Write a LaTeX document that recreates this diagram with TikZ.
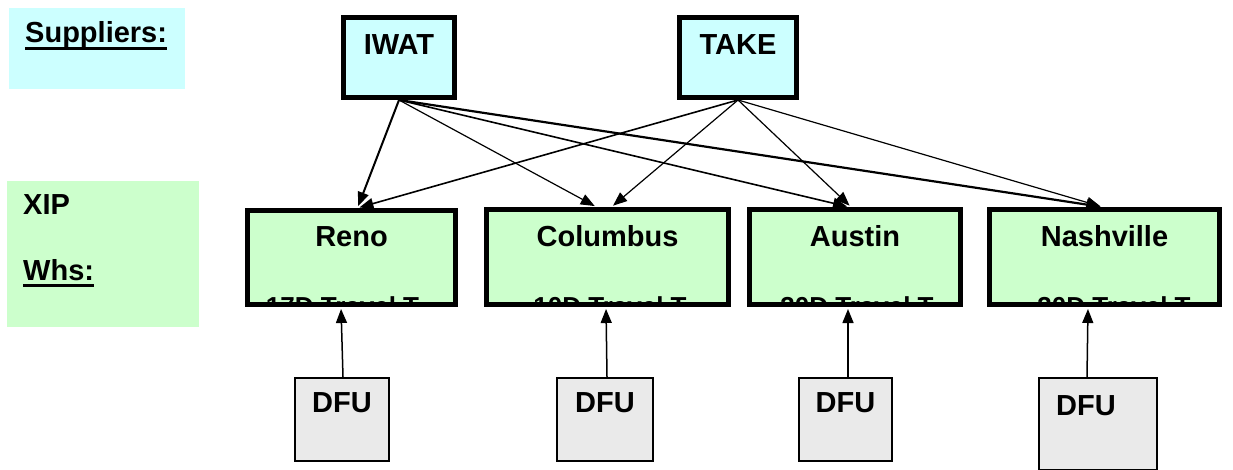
\documentclass[tikz,border=0pt]{standalone}
\usepackage{fontspec}
\setmainfont{Liberation Sans}
\usetikzlibrary{arrows.meta,calc}
\definecolor{supfill}{HTML}{CCFFFF}
\definecolor{whsfill}{HTML}{CCFFCC}
\definecolor{dfufill}{HTML}{EAEAEA}
\tikzset{
  big/.style={font=\bfseries\fontsize{29}{34}\selectfont},
  supbox/.style={draw, line width=5pt, fill=supfill, inner sep=0pt, rectangle},
  whsbox/.style={draw, line width=5pt, fill=whsfill, inner sep=0pt, rectangle},
  dfubox/.style={draw, line width=1.8pt, fill=dfufill, inner sep=0pt, rectangle},
  title/.style={big, anchor=base, inner sep=0pt},
  subtxt/.style={font=\bfseries\fontsize{26}{30}\selectfont, anchor=base, inner sep=0pt, draw=none, fill=none},
  conn/.style={-{Triangle[length=14pt,width=11pt]}, line width=#1, shorten >=2pt},
  conn/.default=1.2pt,
}
\begin{document}
\begin{tikzpicture}[x=1pt,y=-1pt]
\useasboundingbox (0,0) rectangle (1233,470);
% legend panels
\fill[supfill] (9,8) rectangle (185,89);
\fill[whsfill] (7,181) rectangle (199,327);
\node[big, anchor=base west, inner sep=0pt] (suplbl) at (25,43) {Suppliers:};
\draw[line width=3pt] ($(suplbl.base west)+(0,5.5)$) -- ($(suplbl.base east)+(0,5.5)$);
\node[big, anchor=base west, inner sep=0pt] (xiplbl) at (23,215) {XIP};
\node[big, anchor=base west, inner sep=0pt] (whslbl) at (23,280) {Whs:};
\draw[line width=3pt] ($(whslbl.base west)+(0,5)$) -- ($(whslbl.base east)+(0,5)$);

% suppliers
\node[supbox, minimum width=111pt, minimum height=80pt] (iwat) at (399,57.5) {};
\node[title] (iwatt) at (399,55) {IWAT};
\node[supbox, minimum width=117pt, minimum height=80pt] (take) at (738,57.5) {};
\node[title] (taket) at (738,55) {TAKE};

% warehouses
\node[whsbox, minimum width=208pt, minimum height=94pt,
  path picture={\node[subtxt] at ($(path picture bounding box.south)+(-9,11)$) {17D Travel T};}]
  (reno) at (351.5,257.5) {};
\node[title] (renot) at (351.5,247) {Reno};
\node[whsbox, minimum width=242pt, minimum height=95pt,
  path picture={\node[subtxt] at ($(path picture bounding box.south)+(2.5,11)$) {10D Travel T};}]
  (colu) at (607.5,257) {};
\node[title] (colut) at (607.5,247) {Columbus};
\node[whsbox, minimum width=211pt, minimum height=95pt,
  path picture={\node[subtxt] at ($(path picture bounding box.south)+(2,11)$) {30D Travel T};}]
  (aust) at (855,257) {};
\node[title] (austt) at (855,247) {Austin};
\node[whsbox, minimum width=230pt, minimum height=95pt,
  path picture={\node[subtxt] at ($(path picture bounding box.south)+(9.5,11)$) {30D Travel T};}]
  (nash) at (1104.5,257) {};
\node[title] (nasht) at (1104.5,247) {Nashville};

% DFUs
\node[dfubox, minimum width=94pt, minimum height=83pt] (dfu1) at (342,419.5) {};
\node[title] (dfu1t) at (342,412) {DFU};
\node[dfubox, minimum width=96pt, minimum height=83pt] (dfu2) at (605,419.5) {};
\node[title] (dfu2t) at (605,412) {DFU};
\node[dfubox, minimum width=93pt, minimum height=83pt] (dfu3) at (845.5,419.5) {};
\node[title] (dfu3t) at (845.5,412) {DFU};
\node[dfubox, minimum width=118pt, minimum height=92pt] (dfu4) at (1098,424) {};
\node[title] (dfu4t) at (1086,415) {DFU};

% supplier -> warehouse
\draw[conn=2pt]   (iwat.south) -- ([xshift=6pt]reno.north);
\draw[conn=1.2pt] (iwat.south) -- ([xshift=-11pt]colu.north);
\draw[conn=1.6pt] (iwat.south) -- ([xshift=-6pt]aust.north);
\draw[conn=2.2pt] (iwat.south) -- ([xshift=-2pt]nash.north);
\draw[conn=1.6pt] (take.south) -- ([xshift=6pt]reno.north);
\draw[conn=1.2pt] (take.south) -- ([xshift=4pt]colu.north);
\draw[conn=1.2pt] (take.south) -- ([xshift=-4pt]aust.north);
\draw[conn=1.2pt] (take.south) -- ([xshift=-2pt]nash.north);

% DFU -> warehouse
\draw[conn=1.5pt] ([xshift=1pt]dfu1.north) -- ([xshift=-10.5pt]reno.south);
\draw[conn=1.5pt] ([xshift=2pt]dfu2.north) -- ([xshift=-1.5pt]colu.south);
\draw[conn=1.5pt] ([xshift=2.5pt]dfu3.north) -- ([xshift=-7pt]aust.south);
\draw[conn=1.5pt] ([xshift=-11pt]dfu4.north) -- ([xshift=-16.5pt]nash.south);
\end{tikzpicture}
\end{document}
